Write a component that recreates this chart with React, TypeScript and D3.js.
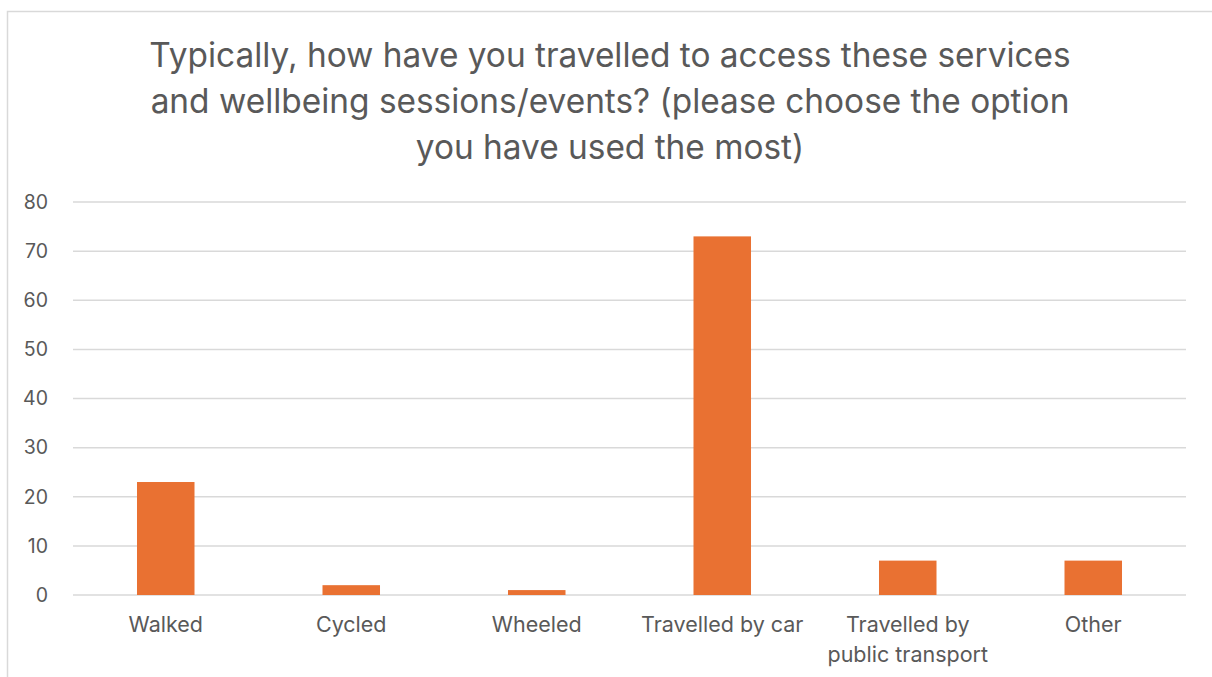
import React from "react";
import * as d3 from "d3";

const categories = ["Walked", "Cycled", "Wheeled", "Travelled by car", "Travelled by public transport", "Other"];
const categoryLines = [["Walked"], ["Cycled"], ["Wheeled"], ["Travelled by car"], ["Travelled by", "public transport"], ["Other"]];
const values = [23, 2, 1, 73, 7, 7];
const yTicks = [0, 10, 20, 30, 40, 50, 60, 70, 80];
const titleLines = [
  "Typically, how have you travelled to access these services",
  "and wellbeing sessions/events? (please choose the option",
  "you have used the most)",
];

export default function App() {
  const W = 1212, H = 677;
  const left = 73, right = 1186, top = 202, bottom = 595;
  const x = d3.scaleBand<string>().domain(categories).range([left, right]).paddingInner(0.69).paddingOuter(0.345);
  const y = d3.scaleLinear().domain([0, 80]).range([bottom, top]);
  const font = "Inter, 'Open Sans', sans-serif";
  const textColor = "#595959";
  return (
    <svg width={W} height={H} style={{ position: "absolute", left: 0, top: 0 }}>
      <rect x={0} y={0} width={W} height={H} fill="#fff" />
      <rect x={7.5} y={11.5} width={W + 10} height={H + 10} fill="#fff" stroke="#d9d9d9" strokeWidth={1.5} />
      {titleLines.map((t, i) => (
        <text key={i} x={610} y={67 + i * 46} textAnchor="middle" fontFamily={font} fontSize={33.4} fill={textColor}>
          {t}
        </text>
      ))}
      {yTicks.map((t) => (
        <g key={t}>
          <line x1={left} x2={right} y1={y(t)} y2={y(t)} stroke="#d9d9d9" strokeWidth={1.5} />
          <text x={48} y={y(t)} dy="0.35em" textAnchor="end" fontFamily={font} fontSize={19.5} fill={textColor}>
            {t}
          </text>
        </g>
      ))}
      {categories.map((c, i) => (
        <rect key={c} x={x(c)} y={y(values[i])} width={x.bandwidth()} height={y(0) - y(values[i])} fill="#E97132" />
      ))}
      {categories.map((c, i) => (
        <text key={c} x={(x(c) as number) + x.bandwidth() / 2} y={632} textAnchor="middle" fontFamily={font} fontSize={21.5} fill={textColor}>
          {categoryLines[i].map((l, j) => (
            <tspan key={j} x={(x(c) as number) + x.bandwidth() / 2} dy={j === 0 ? 0 : 30}>
              {l}
            </tspan>
          ))}
        </text>
      ))}
    </svg>
  );
}
